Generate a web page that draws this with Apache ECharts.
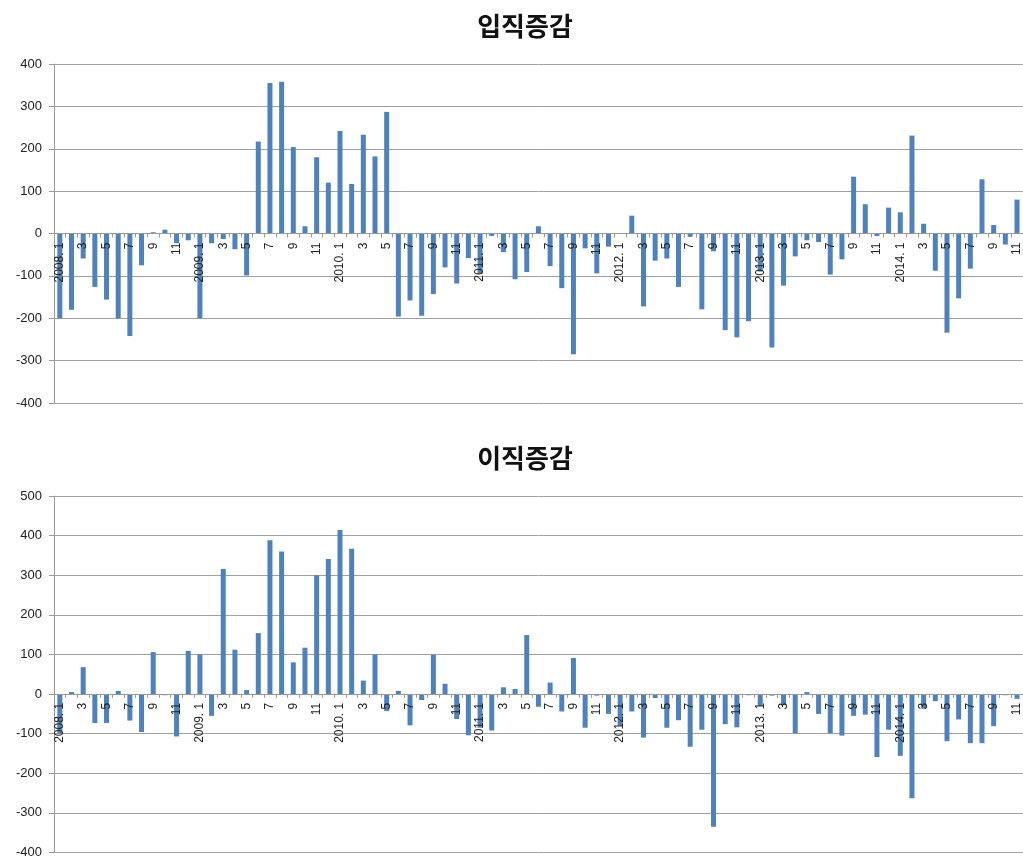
<!DOCTYPE html>
<html>
<head>
<meta charset="utf-8">
<script src="https://cdn.jsdelivr.net/npm/echarts@6/dist/echarts.min.js"></script>
<style>
  html, body { margin: 0; padding: 0; background: #fff; }
  #chart { width: 1023px; height: 859px; }
</style>
</head>
<body>
<div id="chart"></div>
<script>
// months 2008.1 .. 2014.11
const years = [2008, 2009, 2010, 2011, 2012, 2013, 2014];
const lastMonth = 11;

// 입직증감
const entryChange = [
  -200, -180, -59, -126, -156, -200, -242, -75, 3, 9, -23, -16,
  -200, -23, -13, -37, -99, 217, 355, 358, 204, 17, 180, 120,
  242, 117, 233, 182, 287, -196, -158, -194, -143, -80, -118, -58,
  -95, -6, -44, -108, -91, 17, -77, -129, -285, -35, -94, -31,
  0, 42, -172, -64, -59, -126, -8, -179, -42, -228, -245, -207,
  -90, -269, -123, -54, -16, -20, -97, -61, 134, 69, -6, 61,
  50, 231, 23, -88, -234, -153, -83, 128, 20, -26, 80
];

// 이직증감
const exitChange = [
  -100, 5, 68, -73, -73, 8, -67, -96, 106, -3, -107, 109,
  100, -55, 316, 112, 10, 154, 388, 360, 80, 117, 300, 341,
  414, 367, 34, 100, -43, 8, -79, -15, 99, 26, -63, -104,
  -85, -92, 17, 13, 149, -32, 29, -44, 91, -85, -4, -50,
  -80, -44, -110, -10, -85, -66, -133, -90, -335, -76, -84, -3,
  -30, -4, -28, -99, 5, -50, -99, -105, -55, -52, -159, -90,
  -156, -263, -37, -18, -119, -64, -124, -124, -81, -3, -12
];

const months = [];
years.forEach((y, i) => {
  const n = i === years.length - 1 ? lastMonth : 12;
  for (let m = 1; m <= n; m++) {
    months.push(m === 1 ? y + '. 1' : String(m));
  }
});

const barColor = '#4f81bd';
const gridColor = '#a0a0a0';
const font = "'Liberation Sans', Arial, sans-serif";

// grid boxes, px
const topGrid = { top: 64, height: 339, min: -400, max: 400 };
const bottomGrid = { top: 496, height: 357, min: -400, max: 500 };

// shift the category axis up from the grid bottom to the zero line
function zeroOffset(g) {
  return -g.height * (0 - g.min) / (g.max - g.min);
}

function xAxis(gridIndex, g) {
  return {
    type: 'category',
    gridIndex,
    data: months,
    position: 'bottom',
    offset: zeroOffset(g),
    z: 10,
    axisLine: { onZero: false, lineStyle: { color: '#999', width: 1 } },
    axisTick: { show: true, interval: 0, length: 4, lineStyle: { color: '#999' } },
    axisLabel: {
      interval: 1,
      rotate: 90,
      margin: 9,
      fontSize: 12,
      color: '#222',
      fontFamily: font
    }
  };
}

function yAxis(gridIndex, g) {
  return {
    type: 'value',
    gridIndex,
    min: g.min,
    max: g.max,
    interval: 100,
    axisLine: { show: true, lineStyle: { color: '#999' } },
    axisTick: { show: true, length: 5, lineStyle: { color: '#999' } },
    axisLabel: { fontSize: 13, color: '#222', margin: 12, fontFamily: font },
    splitLine: { lineStyle: { color: gridColor, width: 1 } }
  };
}

const titleStyle = { fontSize: 26, fontWeight: 'bold', color: '#111', fontFamily: 'Noto Sans CJK KR' };

const chart = echarts.init(document.getElementById('chart'));
chart.setOption({
  animation: false,
  backgroundColor: '#fff',
  title: [
    { text: '입직증감', left: 520, top: 8, textAlign: 'center', textStyle: titleStyle },
    { text: '이직증감', left: 520, top: 440, textAlign: 'center', textStyle: titleStyle }
  ],
  grid: [
    { left: 54, right: -3, top: topGrid.top, height: topGrid.height },
    { left: 54, right: -3, top: bottomGrid.top, height: bottomGrid.height }
  ],
  xAxis: [xAxis(0, topGrid), xAxis(1, bottomGrid)],
  yAxis: [yAxis(0, topGrid), yAxis(1, bottomGrid)],
  series: [
    {
      name: '입직증감',
      type: 'bar',
      xAxisIndex: 0,
      yAxisIndex: 0,
      barWidth: 5,
      z: 2,
      itemStyle: { color: barColor },
      data: entryChange
    },
    {
      name: '이직증감',
      type: 'bar',
      xAxisIndex: 1,
      yAxisIndex: 1,
      barWidth: 5,
      z: 2,
      itemStyle: { color: barColor },
      data: exitChange
    }
  ]
});
</script>
</body>
</html>
